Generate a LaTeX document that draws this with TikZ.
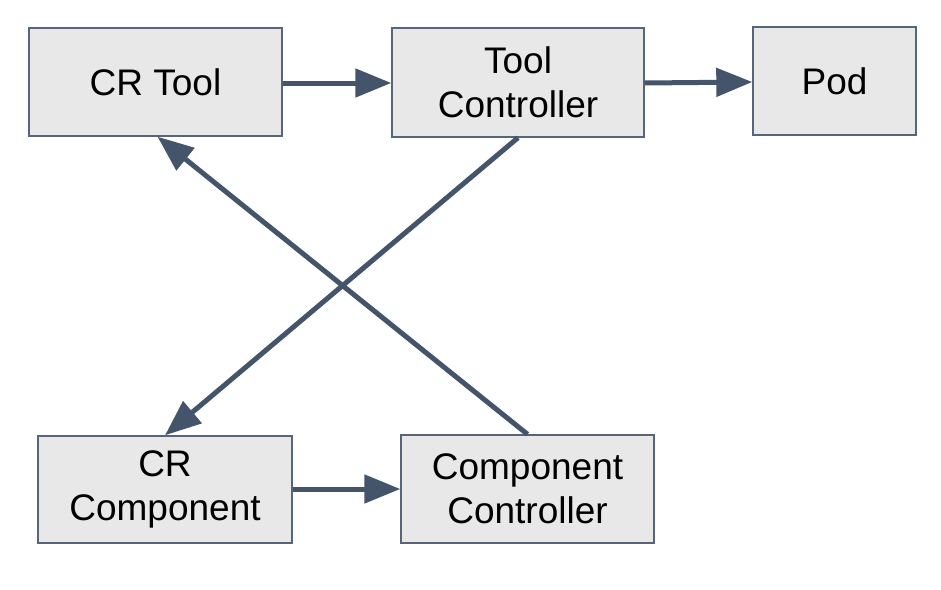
\documentclass[tikz,border=0pt]{standalone}
\usepackage{fontspec}
\setmainfont{Liberation Sans}
\usetikzlibrary{arrows.meta}
\definecolor{boxfill}{HTML}{E8E8E8}
\definecolor{boxline}{HTML}{56657A}
\definecolor{arrowcol}{HTML}{44546A}
\begin{document}
\begin{tikzpicture}[x=1pt,y=-1pt,
  box/.style={draw=boxline,line width=1.4pt,fill=boxfill,inner sep=0pt,
    font=\fontsize{37}{44}\selectfont,align=center},
  conn/.style={draw=arrowcol,line width=5pt,
    -{Triangle[length=36pt,width=28pt]}}]
\useasboundingbox (0,0) rectangle (941,589);
\node[box,minimum width=253pt,minimum height=108pt] (crtool) at (155.5,82) {CR Tool};
\node[box,minimum width=252pt,minimum height=109pt] (toolctl) at (518,82.5) {Tool\\Controller};
\node[box,minimum width=163pt,minimum height=108pt] (pod) at (834.5,81) {Pod};
\node[box,minimum width=254pt,minimum height=107pt] (crcomp) at (165,489.5) {CR\\Component};
\node[box,minimum width=253pt,minimum height=108pt] (compctl) at (527.5,489) {Component\\Controller};
\draw[conn] (crtool.east |- 0,83) -- (toolctl.west |- 0,83);
\draw[conn] (toolctl.east |- 0,83) -- (pod.west |- 0,82);
\draw[conn] (toolctl.south) -- (crcomp.north);
\draw[conn] (compctl.north) -- ([xshift=2pt]crtool.south);
\draw[conn] (crcomp.east |- 0,489) -- (compctl.west |- 0,489);
\end{tikzpicture}
\end{document}
